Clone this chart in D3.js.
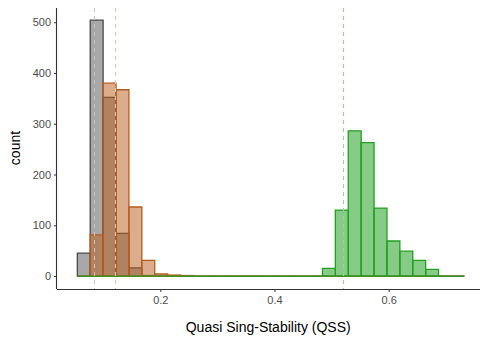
<!DOCTYPE html>
<html>
<head>
<meta charset="utf-8">
<script src="https://cdn.jsdelivr.net/npm/d3@7"></script>
<style>
  body { margin: 0; background: #fff; }
  text { font-family: "Liberation Sans", Arial, sans-serif; }
</style>
</head>
<body>
<script>
// histogram bins (30 bins, same edges for every group)
var binStart = 0.0546,
    binWidth = 0.0226,
    nBins = 30;

var greyCounts  = [45, 504, 352, 84, 16, 1, 0, 0, 0, 0, 0, 0, 0, 0, 0, 0, 0, 0, 0, 0, 0, 0, 0, 0, 0, 0, 0, 0, 0, 0];
var brownCounts = [0, 81, 380, 367, 136, 31, 4, 2, 1, 0, 0, 0, 0, 0, 0, 0, 0, 0, 0, 0, 0, 0, 0, 0, 0, 0, 0, 0, 0, 0];
var greenCounts = [0, 0, 0, 0, 0, 0, 0, 0, 0, 0, 0, 0, 0, 0, 0, 0, 0, 0, 0, 15, 130, 286, 263, 134, 69, 49, 31, 13, 0, 0];

var groupNames   = ["grey", "brown", "green"];
var groupColors  = ["#4a4a4a", "#b85c1c", "#22a022"];
var groupOpacity = [0.48, 0.5, 0.55];
var meanColors   = ["#c4c4c4", "#e6c2ac", "#93d493"];
var groupMeans   = [0.0845, 0.121, 0.52];

var yTicks = [0, 100, 200, 300, 400, 500];
var xTicks = [0.2, 0.4, 0.6];

var width = 484,
    height = 339;

var svg = d3.select("body").append("svg")
    .attr("width", width)
    .attr("height", height);

var x = d3.scaleLinear()
    .domain([0.019, 0.76])
    .range([57, 480]);

var y = d3.scaleLinear()
    .domain([-25.5, 528])
    .range([289, 8]);

var series = [greyCounts, brownCounts, greenCounts];

// bars -- drawn as paths so empty bins still show their outline at 0
series.forEach(function(counts, gi) {
    svg.append("g")
        .selectAll("path")
        .data(counts)
        .enter().append("path")
        .attr("d", function(d, i) {
            var x0 = x(binStart + i * binWidth),
                x1 = x(binStart + (i + 1) * binWidth),
                y0 = y(0),
                y1 = y(d);
            return "M" + x0 + "," + y0 + "H" + x1 + "V" + y1 + "H" + x0 + "Z";
        })
        .attr("fill", groupColors[gi])
        .attr("fill-opacity", groupOpacity[gi])
        .attr("stroke", groupColors[gi])
        .attr("stroke-width", 1.3);
});

// dashed mean lines
svg.append("g")
    .selectAll("line")
    .data(groupMeans)
    .enter().append("line")
    .attr("x1", function(d) { return Math.round(x(d)) + 0.5; })
    .attr("x2", function(d) { return Math.round(x(d)) + 0.5; })
    .attr("y1", 8)
    .attr("y2", 289)
    .attr("stroke", function(d, i) { return meanColors[i]; })
    .attr("stroke-width", 1)
    .attr("stroke-dasharray", "4,4");

// axes
var xAxis = d3.axisBottom(x)
    .tickValues(xTicks)
    .tickSize(3)
    .tickPadding(4)
    .tickFormat(d3.format(".1f"));

var yAxis = d3.axisLeft(y)
    .tickValues(yTicks)
    .tickSize(3)
    .tickPadding(3);

var gx = svg.append("g")
    .attr("transform", "translate(0,289)")
    .call(xAxis);
gx.select(".domain").attr("d", "M57,0.5H480").attr("stroke", "#333").attr("stroke-width", 1.1);

var gy = svg.append("g")
    .attr("transform", "translate(57,0)")
    .call(yAxis);
gy.select(".domain").attr("d", "M-0.5,8V289").attr("stroke", "#333").attr("stroke-width", 1.1);

svg.selectAll(".tick line").attr("stroke", "#333");
svg.selectAll(".tick text")
    .attr("fill", "#4d4d4d")
    .style("font-size", "11px")
    .style("font-family", "'Liberation Sans', Arial, sans-serif");

// axis titles
svg.append("text")
    .attr("x", x(0.389))
    .attr("y", 332)
    .attr("text-anchor", "middle")
    .style("font-size", "14px")
    .attr("fill", "#000")
    .text("Quasi Sing-Stability (QSS)");

svg.append("text")
    .attr("transform", "translate(20,148) rotate(-90)")
    .attr("text-anchor", "middle")
    .style("font-size", "14px")
    .attr("fill", "#000")
    .text("count");
</script>
</body>
</html>
